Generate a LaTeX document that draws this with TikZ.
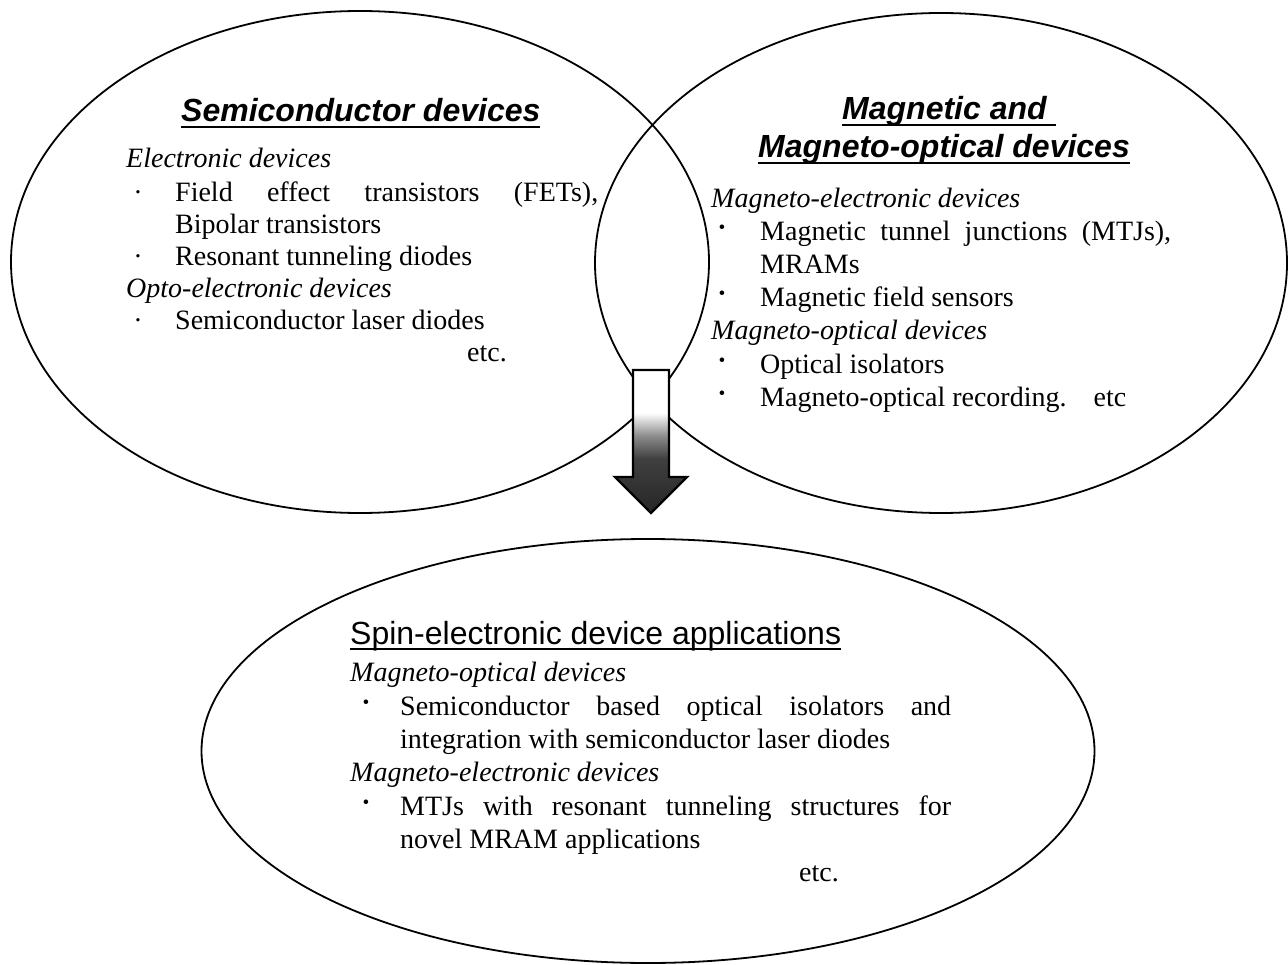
\documentclass[tikz,border=0pt]{standalone}
\usepackage{fontspec}
\setmainfont{Liberation Serif}
\setsansfont{Liberation Sans}
\usetikzlibrary{shapes.geometric}

% white shaft fading to a dark head
\pgfdeclareverticalshading{arrowfade}{100bp}{color(0bp)=(black!85); color(25bp)=(black!85);
  color(44bp)=(black!75); color(52bp)=(black!45); color(60bp)=(white); color(100bp)=(white)}

\newcommand{\ulhead}[2][2.4pt]{\setbox0=\hbox{#2}\rlap{\rule[-6pt]{\wd0}{#1}}\box0}

\tikzset{
  venn/.style={draw, ellipse, line width=1.8pt, inner sep=0pt},
  catlabel/.style={anchor=base west, inner sep=0pt, font=\sffamily\bfseries\itshape\fontsize{32}{38}\selectfont},
  grplabel/.style={anchor=base west, inner sep=0pt, font=\itshape\fontsize{28}{33}\selectfont},
  itemtext/.style={anchor=base west, inner sep=0pt, font=\fontsize{28}{33}\selectfont},
  bulletdot/.style={anchor=base, inner sep=0pt, font=\fontsize{28}{33}\selectfont},
}

\begin{document}
\begin{tikzpicture}[x=1pt, y=-1pt]
  \useasboundingbox (0,0) rectangle (1288,965);

  % the three families
  \node[venn, minimum width=698pt, minimum height=502pt] (semi) at (360,262) {};
  \node[venn, minimum width=692pt, minimum height=500pt] (magn) at (941,263) {};
  \node[venn, minimum width=893pt, minimum height=424pt] (spin) at (648,751) {};

  % block arrow from the overlap down to the applications
  \coordinate (arrtop) at (651,370);
  \shade[shading=arrowfade, draw, line width=2.4pt, line join=miter]
    (arrtop) ++(-18,0) -- ++(36,0) -- ++(0,107) -- ++(18,0) -- ++(-36,36)
    -- ++(-36,-36) -- ++(18,0) -- cycle;

  % semiconductor devices
  \node[catlabel] (semititle) at (181,122) {\ulhead{Semiconductor devices}};
  \node[grplabel] (eldev) at (126,168) {Electronic devices};
  \node[bulletdot] (sb1) at (138,202) {·};
  \node[itemtext] (fet) at (175,202) {\makebox[423pt][s]{Field effect transistors (FETs),}};
  \node[itemtext] (bjt) at (175,234) {Bipolar transistors};
  \node[bulletdot] (sb2) at (138,266) {·};
  \node[itemtext] (rtd) at (175,266) {Resonant tunneling diodes};
  \node[grplabel] (optodev) at (126,298) {Opto-electronic devices};
  \node[bulletdot] (sb3) at (138,330) {·};
  \node[itemtext] (ld) at (175,330) {Semiconductor laser diodes};
  \node[itemtext] (semietc) at (467,362) {etc.};

  % magnetic and magneto-optical devices
  \node[catlabel] (magtitlea) at (842,120) {\ulhead{Magnetic and\ }};
  \node[catlabel] (magtitleb) at (758,158) {\ulhead{Magneto-optical devices}};
  \node[grplabel] (medev) at (711,208) {Magneto-electronic devices};
  \node[bulletdot] (mb1) at (722,237) {\textbf{·}};
  \node[itemtext] (mtj) at (760,241) {\makebox[411pt][s]{Magnetic tunnel junctions (MTJs),}};
  \node[itemtext] (mram) at (760,274) {MRAMs};
  \node[bulletdot] (mb2) at (722,303) {\textbf{·}};
  \node[itemtext] (sensor) at (760,307) {Magnetic field sensors};
  \node[grplabel] (modev) at (711,340) {Magneto-optical devices};
  \node[bulletdot] (mb3) at (722,370) {\textbf{·}};
  \node[itemtext] (isol) at (760,374) {Optical isolators};
  \node[bulletdot] (mb4) at (722,403) {\textbf{·}};
  \node[itemtext] (morec) at (760,407) {Magneto-optical recording.\hspace{27pt}etc};

  % spin-electronic applications
  \node[anchor=base west, inner sep=0pt, font=\sffamily\fontsize{32}{38}\selectfont]
    (spintitle) at (350,644) {\ulhead[2pt]{Spin-electronic device applications}};
  \node[grplabel] (spinmo) at (350,681) {Magneto-optical devices};
  \node[bulletdot] (pb1) at (366,711) {\textbf{·}};
  \node[itemtext] (sciso) at (400,715) {\makebox[551pt][s]{Semiconductor based optical isolators and}};
  \node[itemtext] (integ) at (400,748) {integration with semiconductor laser diodes};
  \node[grplabel] (spinme) at (350,781) {Magneto-electronic devices};
  \node[bulletdot] (pb2) at (366,811) {\textbf{·}};
  \node[itemtext] (rtmtj) at (400,815) {\makebox[551pt][s]{MTJs with resonant tunneling structures for}};
  \node[itemtext] (novel) at (400,848) {novel MRAM applications};
  \node[itemtext] (spinetc) at (799,881) {etc.};
\end{tikzpicture}
\end{document}
